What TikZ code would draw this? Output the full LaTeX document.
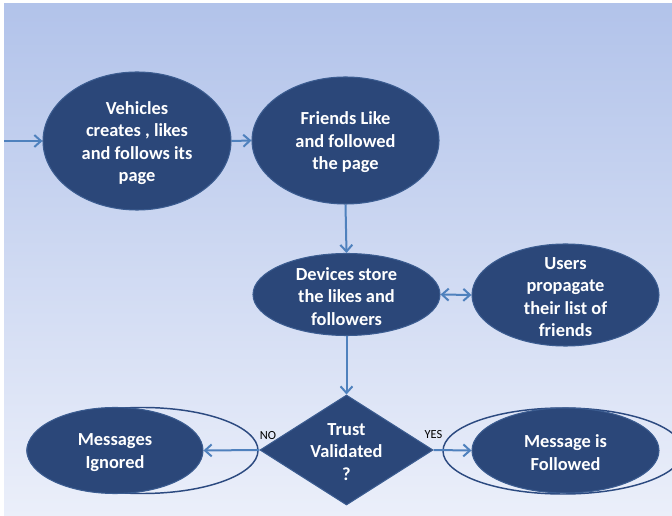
\documentclass[tikz,border=0pt]{standalone}
\usepackage{fontspec}
\setmainfont{Carlito}
\usetikzlibrary{shapes.geometric,arrows.meta}
\definecolor{blobfill}{HTML}{2B4779}
\definecolor{blobedge}{HTML}{3B5C90}
\definecolor{ringcol}{HTML}{2C4A80}
\definecolor{arrowcol}{HTML}{4F81BD}
\definecolor{bgtop}{HTML}{B2C3EA}
\definecolor{bgbot}{HTML}{EBEFFA}
\tikzset{
  blob/.style={ellipse, fill=blobfill, draw=blobedge, line width=0.8pt, inner sep=0pt},
  ring/.style={ellipse, draw=ringcol, line width=1.1pt, inner sep=0pt},
  decision/.style={diamond, fill=blobfill, draw=blobedge, line width=0.8pt, inner sep=0pt},
  txt/.style={text=white, align=center, inner sep=0pt, yshift=-1.5pt,
    font=\bfseries\fontsize{13.8}{16.9}\selectfont},
  lbl/.style={text=black, inner sep=0pt, font=\fontsize{9.3}{11}\selectfont},
  arr/.style={draw=arrowcol, line width=1.5pt,
    -{Straight Barb[length=5pt,width=9pt,line width=1.5pt]}},
  dblarr/.style={draw=arrowcol, line width=1.5pt,
    {Straight Barb[length=5pt,width=9pt,line width=1.5pt]}-{Straight Barb[length=5pt,width=9pt,line width=1.5pt]}}
}
\begin{document}
\begin{tikzpicture}[x=0.75pt,y=-0.75pt]
  \useasboundingbox (0,0) rectangle (672,516);
  % backdrop
  \shade[top color=bgtop, bottom color=bgbot] (4,4) rectangle (672,516);

  % outline rings behind the two outcome ellipses
  \node[ring, minimum width=173.25pt, minimum height=64.5pt] (fring) at (142.5,450.5) {};
  \node[ring, minimum width=180pt, minimum height=64.5pt] (gring) at (563,451) {};

  % process ellipses
  \node[blob, minimum width=141pt, minimum height=103.5pt] (veh) at (137,141) {};
  \node[txt] at (veh.center) {Vehicles\\creates , likes\\and follows its\\page};

  \node[blob, minimum width=140.25pt, minimum height=95.25pt] (fri) at (345.5,140.5) {};
  \node[txt] at (fri.center) {Friends Like\\and followed\\the page};

  \node[blob, minimum width=140.25pt, minimum height=61.5pt] (dev) at (346.5,294.5) {};
  \node[txt] at (dev.center) {Devices store\\the likes and\\followers};

  \node[blob, minimum width=140.25pt, minimum height=76.5pt] (usr) at (565.5,295) {};
  \node[txt] at (usr.center) {Users\\propagate\\their list of\\friends};

  \node[decision, minimum width=129.75pt, minimum height=82.5pt] (trust) at (346.5,450) {};
  \node[txt] at (trust.center) {Trust\\Validated\\?};

  \node[blob, minimum width=132pt, minimum height=64.5pt] (ign) at (115,450.5) {};
  \node[txt] at (ign.center) {Messages\\Ignored};

  \node[blob, minimum width=140.25pt, minimum height=63.75pt] (fol) at (565.5,450.5) {};
  \node[txt] at (fol.center) {Message is\\Followed};

  % connectors
  \coordinate (entry) at (4,141);
  \draw[arr] (entry) -- (veh.west);
  \draw[arr] (veh.east) -- (fri.west);
  \draw[arr] (fri.south) -- (dev.north);
  \draw[dblarr] (dev.east) -- (usr.west);
  \draw[arr] (dev.south) -- (trust.north);
  \draw[arr] (trust.west) -- (ign.east);
  \draw[arr] (trust.east) -- (fol.west);

  % branch labels
  \node[lbl] (no) at (268,436) {NO};
  \node[lbl] (yes) at (433.5,435) {YES};
\end{tikzpicture}
\end{document}
